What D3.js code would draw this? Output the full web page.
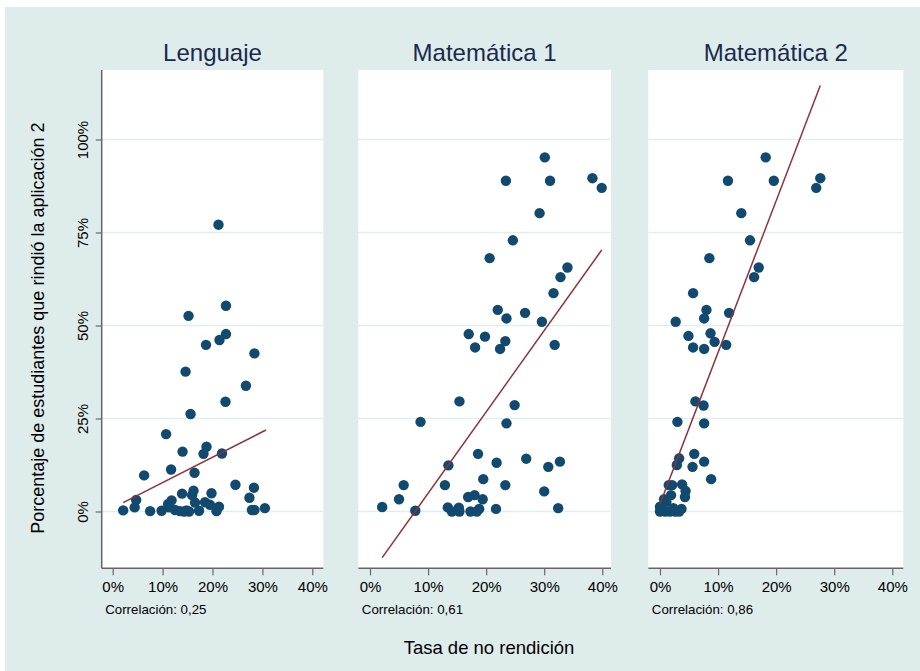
<html lang="es">
    <head>
        <meta charset="utf-8">
        <title>Tasa de no rendición</title>
        <script src="https://d3js.org/d3.v7.min.js"></script>
        <style>
            body { margin: 0; background: #fff; }
            text { font-family: "Liberation Sans", Arial, Helvetica, sans-serif; }
        </style>
    </head>
    <body>
    <script>

    var width = 920;
    var height = 671;

    // panel names and correlations
    var panelTitles = ["Lenguaje", "Matemática 1", "Matemática 2"];
    var correlations = ["0,25", "0,61", "0,86"];

    // tick values (shares)
    var xTicks = [0, 0.1, 0.2, 0.3, 0.4];
    var yTicks = [0, 0.25, 0.5, 0.75, 1];

    // [tasa de no rendición %, porcentaje que rindió %]
    var lenguaje = [
        [22.7,55.3],[15.2,52.6],[22.7,47.7],[21.4,46.1],[18.7,44.8],[28.4,42.5],[14.6,37.6],
        [26.7,33.8],[22.6,29.5],[15.6,26.2],[10.7,20.8],[18.8,17.4],[14.0,16.1],[18.2,15.5],
        [21.9,15.6],[6.3,9.7],[11.7,11.3],[16.4,10.4],[24.6,7.2],[28.3,6.4],[27.4,3.7],
        [30.5,0.9],[27.9,0.4],[28.4,0.4],[4.7,3.1],[4.4,1.1],[2.1,0.3],[7.5,0.1],[9.8,0.2],
        [11.8,3.0],[11.1,2.0],[13.9,4.8],[16.2,5.6],[15.9,4.4],[19.8,4.9],[16.5,2.4],
        [18.5,2.5],[19.5,1.8],[21.3,1.3],[20.8,0.1],[12.5,0.4],[13.5,0.1],[14.3,0.0],
        [15.3,0.0],[14.8,0.3],[17.3,0.2],[11.3,1.1],[21.2,77.1]
    ];

    var matematica1 = [
        [30.1,95.2],[23.4,88.9],[31.0,88.9],[38.3,89.6],[39.9,87.0],[29.2,80.2],[24.6,72.9],
        [20.6,68.1],[34.0,65.6],[32.8,63.0],[31.6,58.7],[22.0,54.2],[26.7,53.4],[23.5,51.9],
        [29.6,51.0],[17.0,47.7],[19.8,47.0],[23.3,45.8],[18.1,44.1],[22.4,43.7],[31.8,44.8],
        [15.4,29.6],[24.9,28.6],[8.7,24.1],[23.5,23.7],[18.6,15.5],[26.9,14.2],[32.7,13.4],
        [30.7,12.0],[21.8,13.1],[13.5,12.4],[5.8,7.1],[12.9,7.1],[19.5,8.7],[23.3,7.1],
        [30.0,5.4],[5.0,3.3],[2.1,1.2],[7.8,0.2],[16.9,3.9],[18.0,4.4],[19.4,3.3],[13.4,1.1],
        [14.1,0.0],[15.3,1.0],[15.4,0.0],[17.3,0.0],[18.4,0.0],[18.8,0.7],[21.7,0.7],[32.4,0.9]
    ];

    var matematica2 = [
        [18.2,95.2],[11.7,88.9],[19.6,88.9],[27.6,89.6],[26.9,87.0],[14.0,80.2],[15.5,72.9],
        [8.5,68.1],[17.0,65.6],[16.2,63.0],[5.7,58.7],[8.0,54.2],[7.6,51.9],[11.9,53.4],
        [2.7,51.0],[4.9,47.2],[8.7,47.9],[9.4,45.6],[5.7,44.1],[7.6,43.7],[11.4,44.8],
        [6.1,29.6],[7.5,28.5],[3.0,24.1],[7.6,23.7],[5.9,15.5],[7.6,13.4],[5.6,12.0],
        [3.3,14.3],[2.9,12.5],[8.8,8.7],[1.5,7.1],[2.1,7.1],[3.8,7.3],[4.4,5.5],[4.3,3.9],
        [1.9,4.4],[0.7,3.3],[1.1,2.6],[0.0,1.3],[0.0,0.0],[0.9,0.0],[1.7,0.0],[2.6,0.0],
        [3.7,0.7],[3.3,0.0],[2.3,0.9]
    ];

    // fitted line end points [x0, y0, x1, y1] in %
    var fitLines = [
        [2.1, 2.4, 30.7, 21.9],
        [2.1, -12.4, 39.9, 70.3],
        [0.0, 2.0, 27.6, 114.5]
    ];

    var series = [lenguaje, matematica1, matematica2];

    // panel layout: plot box and where 0% / 40% fall
    var panels = [
        {left: 101.7, right: 323.3, x0: 112.7, x40: 312.3},
        {left: 358.3, right: 611.0, x0: 370.0, x40: 602.3},
        {left: 648.3, right: 903.3, x0: 660.0, x40: 892.3}
    ];
    var plotTop = 70;
    var plotBottom = 568.3;

    var svg = d3.select("body")
        .append("svg")
        .attr("width", width)
        .attr("height", height);

    svg.append("rect")
        .attr("x", 5)
        .attr("y", 7)
        .attr("width", width - 5)
        .attr("height", height - 7)
        .attr("fill", "#dfecec");

    var y = d3.scaleLinear()
        .domain([0, 1])
        .range([511.5, 139.5]);

    var pct = function(d) { return Math.round(d * 100) + "%"; };

    panels.forEach(function(p, i) {

        var x = d3.scaleLinear()
            .domain([0, 0.4])
            .range([p.x0, p.x40]);

        var g = svg.append("g").attr("class", "panel");

        g.append("rect")
            .attr("x", p.left)
            .attr("y", plotTop)
            .attr("width", p.right - p.left)
            .attr("height", plotBottom - plotTop)
            .attr("fill", "#fff");

        // gridlines
        g.selectAll("line.grid")
            .data(yTicks)
            .enter().append("line")
            .attr("class", "grid")
            .attr("x1", p.left)
            .attr("x2", p.right)
            .attr("y1", function(d) { return y(d); })
            .attr("y2", function(d) { return y(d); })
            .attr("stroke", "#e3eded")
            .attr("stroke-width", 1.5);

        // x axis
        var xAxis = g.append("g")
            .attr("transform", "translate(0," + plotBottom + ")")
            .call(d3.axisBottom(x).tickValues(xTicks).tickFormat(pct).tickSize(7).tickSizeOuter(0).tickPadding(6));
        xAxis.select(".domain")
            .attr("d", "M" + p.left + ",0H" + p.right)
            .attr("stroke", "#666")
            .attr("stroke-width", 1.5);
        xAxis.selectAll(".tick line").attr("stroke", "#666").attr("stroke-width", 1.2);
        xAxis.selectAll(".tick text")
            .attr("font-size", "15px")
            .attr("font-family", "'Liberation Sans', Arial, sans-serif")
            .attr("fill", "#000");

        // y axis only on first panel
        if (i === 0) {
            var yAxis = g.append("g")
                .attr("transform", "translate(" + p.left + ",0)")
                .call(d3.axisLeft(y).tickValues(yTicks).tickFormat(pct).tickSize(6).tickSizeOuter(0));
            yAxis.select(".domain")
                .attr("d", "M0," + plotTop + "V" + plotBottom)
                .attr("stroke", "#666")
                .attr("stroke-width", 1.5);
            yAxis.selectAll(".tick line").attr("stroke", "#666").attr("stroke-width", 1.2);
            yAxis.selectAll(".tick text").remove();
            yAxis.selectAll(".tick").append("text")
                .attr("transform", "translate(-14,0) rotate(-90)")
                .attr("text-anchor", "middle")
                .attr("font-size", "15px")
                .attr("font-family", "'Liberation Sans', Arial, sans-serif")
                .attr("fill", "#000")
                .text(function(d) { return pct(d); });
        }

        // points
        g.selectAll("circle")
            .data(series[i])
            .enter().append("circle")
            .attr("cx", function(d) { return x(d[0] / 100); })
            .attr("cy", function(d) { return y(d[1] / 100); })
            .attr("r", 5.2)
            .attr("fill", "#124a6f");

        // fitted line
        var f = fitLines[i];
        g.append("line")
            .attr("x1", x(f[0] / 100))
            .attr("y1", y(f[1] / 100))
            .attr("x2", x(f[2] / 100))
            .attr("y2", y(f[3] / 100))
            .attr("stroke", "#8e3039")
            .attr("stroke-width", 1.5);

        // panel title
        g.append("text")
            .attr("x", (p.left + p.right) / 2)
            .attr("y", 61)
            .attr("text-anchor", "middle")
            .attr("font-size", "24px")
            .attr("fill", "#1a2a4c")
            .text(panelTitles[i]);

        g.append("text")
            .attr("x", p.left + 3.5)
            .attr("y", 614)
            .attr("font-size", "13.3px")
            .attr("fill", "#000")
            .text("Correlación: " + correlations[i]);
    });

    // axis titles
    svg.append("text")
        .attr("transform", "translate(44," + ((plotTop + plotBottom) / 2 + 9) + ") rotate(-90)")
        .attr("text-anchor", "middle")
        .attr("font-size", "18px")
        .attr("fill", "#000")
        .text("Porcentaje de estudiantes que rindió la aplicación 2");

    svg.append("text")
        .attr("x", 489)
        .attr("y", 654)
        .attr("text-anchor", "middle")
        .attr("font-size", "18.5px")
        .attr("fill", "#000")
        .text("Tasa de no rendición");

    </script>
    </body>
</html>
